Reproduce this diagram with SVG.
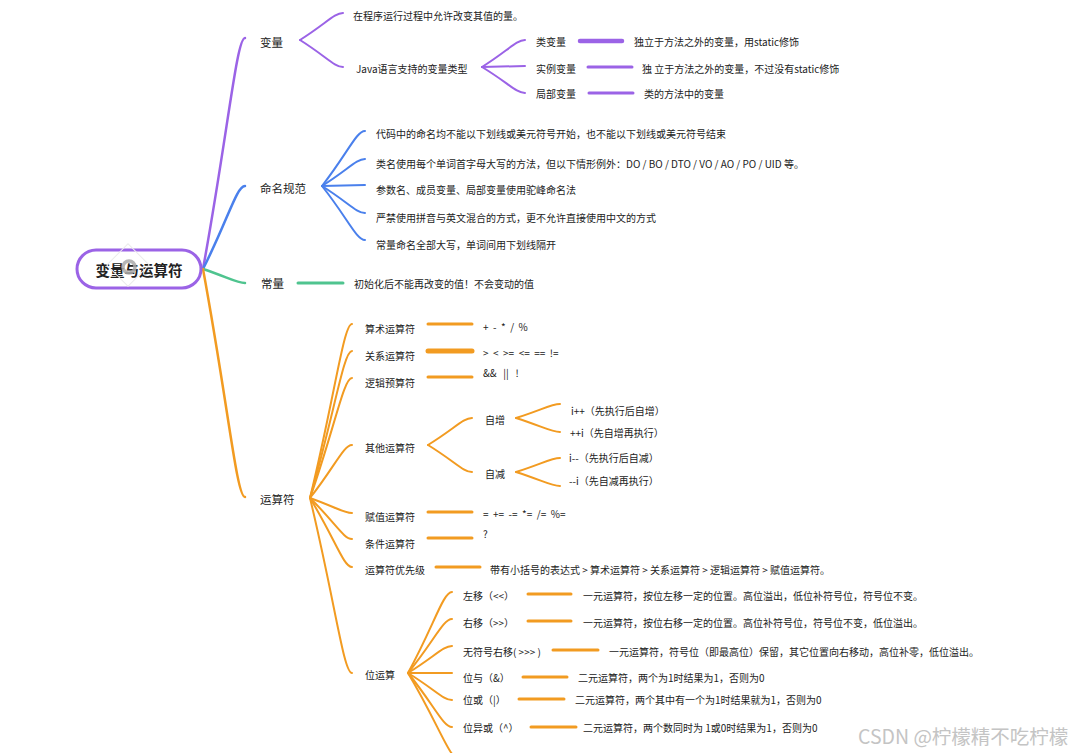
<svg xmlns="http://www.w3.org/2000/svg" width="1084" height="753" viewBox="0 0 1084 753">
<style>
text{font-family:"Noto Sans CJK SC","Noto Sans",sans-serif;fill:#222;dominant-baseline:central;white-space:pre}
.t{font-size:10px}
.l1{font-size:11.5px}
.root{font-size:14.5px;font-weight:bold;text-anchor:middle}
.wm{font-size:19.5px;fill:#c4c4c4}
path,line{fill:none;stroke-linecap:round}
.p{stroke:#9b63e6}
.b{stroke:#4a80ec}
.g{stroke:#4fc48f}
.o{stroke:#f29b21}
.w1{stroke-width:2.5}
.w2{stroke-width:2}
.h{stroke-width:3}
.hh{stroke-width:4.5}
</style>
<rect width="1084" height="753" fill="#fff"/>
<g id="connectors">
  <!-- root branches -->
  <path class="p w1" d="M203 269 C228.2 130.4 236.6 38 245 38"/>
  <path class="b w1" d="M203 269 C228.2 219.2 236.6 186 245 186"/>
  <path class="g w1" d="M203 269 C228.2 277.4 236.6 283 245 283"/>
  <path class="o w1" d="M203 269 C228.2 405.8 236.6 497 245 497"/>
  <!-- 变量 -->
  <path class="p w2" d="M300 40 C325.8 23.8 334.4 13 343 13"/>
  <path class="p w2" d="M300 40 C325.8 56.2 334.4 67 343 67"/>
  <path class="p w2" d="M482 67 C507.8 50.8 516.4 40 525 40"/>
  <path class="p w2" d="M482 67 L525 66"/>
  <path class="p w2" d="M482 67 C507.8 82.6 516.4 93 525 93"/>
  <line class="p hh" x1="580" y1="41" x2="622" y2="41"/>
  <line class="p h" x1="588" y1="67" x2="632" y2="67"/>
  <line class="p h" x1="589" y1="93" x2="633" y2="93"/>
  <!-- 命名规范 -->
  <path class="b w2" d="M322 186 C347.8 153 356.4 131 365 131"/>
  <path class="b w2" d="M322 186 C347.8 169.8 356.4 159 365 159"/>
  <path class="b w2" d="M322 186 L365 185"/>
  <path class="b w2" d="M322 186 C347.8 202.2 356.4 213 365 213"/>
  <path class="b w2" d="M322 186 C347.8 218.4 356.4 240 365 240"/>
  <!-- 常量 -->
  <line class="g h" x1="298" y1="283" x2="343" y2="283"/>
  <!-- 运算符 -->
  <path class="o w2" d="M310 498 C335.2 393.6 343.6 324 352 324"/>
  <path class="o w2" d="M310 498 C335.2 409.8 343.6 351 352 351"/>
  <path class="o w2" d="M310 498 C335.2 426 343.6 378 352 378"/>
  <path class="o w2" d="M310 498 C335.2 466.2 343.6 445 352 445"/>
  <path class="o w2" d="M310 498 C335.2 507 343.6 513 352 513"/>
  <path class="o w2" d="M310 498 C335.2 522.6 343.6 539 352 539"/>
  <path class="o w2" d="M310 498 C335.2 539.4 343.6 567 352 567"/>
  <path class="o w2" d="M310 498 C335.2 603 343.6 673 352 673"/>
  <line class="o h" x1="428" y1="324" x2="472" y2="324"/>
  <line class="o" stroke-width="5" x1="428" y1="351" x2="472" y2="351"/>
  <line class="o h" x1="428" y1="377" x2="472" y2="377"/>
  <line class="o h" x1="428" y1="512" x2="472" y2="512"/>
  <line class="o h" x1="428" y1="538" x2="472" y2="538"/>
  <line class="o h" x1="436" y1="567" x2="480" y2="567"/>
  <!-- 其他运算符 -->
  <path class="o w2" d="M428 445 C454.4 428.8 463.2 418 472 418"/>
  <path class="o w2" d="M428 445 C454.4 461.2 463.2 472 472 472"/>
  <path class="o w2" d="M516 418 C542.4 409.6 551.2 404 560 404"/>
  <path class="o w2" d="M516 418 C542.4 426.4 551.2 432 560 432"/>
  <path class="o w2" d="M516 472 C542.4 463.6 551.2 458 560 458"/>
  <path class="o w2" d="M516 472 C542.4 480.4 551.2 486 560 486"/>
  <!-- 位运算 -->
  <path class="o w2" d="M408 673 C434.4 624.4 443.2 592 452 592"/>
  <path class="o w2" d="M408 673 C434.4 640.6 443.2 619 452 619"/>
  <path class="o w2" d="M408 673 C434.4 656.8 443.2 646 452 646"/>
  <path class="o w2" d="M408 673 L452 673"/>
  <path class="o w2" d="M408 673 C434.4 689.2 443.2 700 452 700"/>
  <path class="o w2" d="M408 673 C434.4 705.4 443.2 727 452 727"/>
  <path class="o w2" d="M408 673 C439.2 725.2 449.6 760 460 760"/>
  <line class="o h" x1="528" y1="594" x2="571" y2="594"/>
  <line class="o h" x1="528" y1="621" x2="571" y2="621"/>
  <line class="o h" x1="553" y1="650" x2="598" y2="650"/>
  <line class="o h" x1="523" y1="677" x2="567" y2="677"/>
  <line class="o h" x1="519" y1="699" x2="564" y2="699"/>
  <line class="o h" x1="531" y1="727" x2="576" y2="727"/>
</g>
<g id="root">
  <rect x="77" y="250" width="124" height="38" rx="19" fill="#fff" stroke="#9b63e6" stroke-width="3"/>
  <text class="root" x="139" y="269">变量与运算符</text>
  <rect x="113" y="250" width="30" height="30" transform="rotate(45 128 265)" fill="none" stroke="#ebebeb" stroke-width="1"/>
  <circle cx="129" cy="267" r="6" fill="none" stroke="#a9a9a9" stroke-width="3.5" opacity="0.85"/>
</g>
<g id="n-bianliang">
  <text class="l1" x="260" y="42">变量</text>
  <text class="t" x="353" y="15">在程序运行过程中允许改变其值的量。</text>
  <text class="t" x="356" y="68">Java语言支持的变量类型</text>
  <text class="t" x="536" y="41">类变量</text>
  <text class="t" x="536" y="68">实例变量</text>
  <text class="t" x="536" y="93">局部变量</text>
  <text class="t" x="634" y="41">独立于方法之外的变量，用static修饰</text>
  <text class="t" x="642" y="68">独 立于方法之外的变量，不过没有static修饰</text>
  <text class="t" x="644" y="93">类的方法中的变量</text>
</g>
<g id="n-mingming">
  <text class="l1" x="260" y="188">命名规范</text>
  <text class="t" x="376" y="133">代码中的命名均不能以下划线或美元符号开始，也不能以下划线或美元符号结束</text>
  <text class="t" x="376" y="163">类名使用每个单词首字母大写的方法，但以下情形例外：DO / BO / DTO / VO / AO / PO / UID 等。</text>
  <text class="t" x="376" y="189">参数名、成员变量、局部变量使用驼峰命名法</text>
  <text class="t" x="376" y="217">严禁使用拼音与英文混合的方式，更不允许直接使用中文的方式</text>
  <text class="t" x="376" y="244">常量命名全部大写，单词间用下划线隔开</text>
</g>
<g id="n-changliang">
  <text class="l1" x="261" y="283">常量</text>
  <text class="t" x="354" y="283">初始化后不能再改变的值！不会变动的值</text>
</g>
<g id="n-yunsuanfu">
  <text class="l1" x="260" y="499">运算符</text>
</g>
<g id="n-suanshu">
  <text class="t" x="365" y="328">算术运算符</text>
  <text class="t" x="483" y="326">+  -  *  /  %</text>
</g>
<g id="n-guanxi">
  <text class="t" x="365" y="355">关系运算符</text>
  <text class="t" x="483" y="352">&gt;  &lt;  &gt;=  &lt;=  ==  !=</text>
</g>
<g id="n-luoji">
  <text class="t" x="365" y="382">逻辑预算符</text>
  <text class="t" x="483" y="372">&amp;&amp;   ||   !</text>
</g>
<g id="n-qita">
  <text class="t" x="365" y="447">其他运算符</text>
  <text class="t" x="485" y="419">自增</text>
  <text class="t" x="485" y="473">自减</text>
  <text class="t" x="571" y="410">i++（先执行后自增）</text>
  <text class="t" x="570" y="432">++i（先自增再执行）</text>
  <text class="t" x="569" y="457">i--（先执行后自减）</text>
  <text class="t" x="569" y="480">--i（先自减再执行）</text>
</g>
<g id="n-fuzhi">
  <text class="t" x="365" y="516">赋值运算符</text>
  <text class="t" x="483" y="513">=  +=  -=  *=  /=  %=</text>
</g>
<g id="n-tiaojian">
  <text class="t" x="365" y="543">条件运算符</text>
  <text class="t" x="483" y="533">?</text>
</g>
<g id="n-youxianji">
  <text class="t" x="365" y="569">运算符优先级</text>
  <text class="t" x="490" y="569">带有小括号的表达式 &gt; 算术运算符 &gt; 关系运算符 &gt; 逻辑运算符 &gt; 赋值运算符。</text>
</g>
<g id="n-weiyunsuan">
  <text class="t" x="365" y="674">位运算</text>
  <text class="t" x="463" y="595">左移（&lt;&lt;）</text>
  <text class="t" x="463" y="622">右移（&gt;&gt;）</text>
  <text class="t" x="463" y="651">无符号右移( &gt;&gt;&gt; )</text>
  <text class="t" x="463" y="677">位与（&amp;）</text>
  <text class="t" x="463" y="699">位或（|）</text>
  <text class="t" x="463" y="727">位异或（^）</text>
  <text class="t" x="583" y="595">一元运算符，按位左移一定的位置。高位溢出，低位补符号位，符号位不变。</text>
  <text class="t" x="583" y="622">一元运算符，按位右移一定的位置。高位补符号位，符号位不变，低位溢出。</text>
  <text class="t" x="609" y="651">一元运算符，符号位（即最高位）保留，其它位置向右移动，高位补零，低位溢出。</text>
  <text class="t" x="578" y="677">二元运算符，两个为1时结果为1，否则为0</text>
  <text class="t" x="575" y="699">二元运算符，两个其中有一个为1时结果就为1，否则为0</text>
  <text class="t" x="583" y="727">二元运算符，两个数同时为 1或0时结果为1，否则为0</text>
</g>
<g id="watermark">
  <text class="wm" x="858" y="735">CSDN @柠檬精不吃柠檬</text>
</g>
</svg>
